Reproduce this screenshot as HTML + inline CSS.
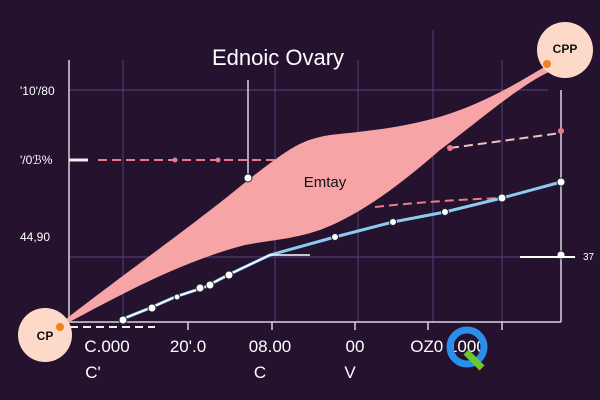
<!DOCTYPE html>
<html><head><style>
body{margin:0;background:#24112e;}
svg{display:block}
text{font-family:"Liberation Sans",sans-serif}
</style></head><body>
<svg width="600" height="400" viewBox="0 0 600 400">
<rect width="600" height="400" fill="#25122f"/>
<g stroke="#4c3b70" stroke-width="1.2">
<line x1="69" y1="90" x2="548" y2="90"/>
<line x1="69" y1="257" x2="561" y2="257"/>
<line x1="123" y1="60" x2="123" y2="322"/>
<line x1="358" y1="60" x2="358" y2="322"/>
<line x1="433" y1="30" x2="433" y2="322"/>
<line x1="502" y1="60" x2="502" y2="322"/>
<line x1="275" y1="60" x2="275" y2="322"/>
</g>
<g stroke="#d8d4e0" stroke-width="1.5" fill="none">
<line x1="69" y1="60" x2="69" y2="322"/>
<line x1="69" y1="322" x2="561" y2="322"/>
<line x1="561" y1="90" x2="561" y2="322"/>
<line x1="248" y1="80" x2="248" y2="178"/>
<line x1="188" y1="322" x2="188" y2="330"/>
<line x1="272" y1="322" x2="272" y2="330"/>
<line x1="355" y1="322" x2="355" y2="330"/>
<line x1="428" y1="322" x2="428" y2="330"/>
<line x1="502" y1="322" x2="502" y2="330"/>
</g>
<line x1="69" y1="160" x2="88" y2="160" stroke="#eee" stroke-width="3"/>
<line x1="98" y1="160" x2="300" y2="160" stroke="#e87d86" stroke-width="2" stroke-dasharray="9,5"/>
<path d="M450 148 L561 133" stroke="#f0c0c0" stroke-width="2" stroke-dasharray="9,5"/>
<path d="M375 207 Q440 200 502 198" stroke="#e87d86" stroke-width="2" stroke-dasharray="9,5" fill="none"/>
<path d="M70 327 L155 327" stroke="#eee" stroke-width="2" stroke-dasharray="8,5"/>
<path d="M62 322 C140 262 200 220 248 180 C290 148 300 140 330 135 C380 130 420 125 460 110 C500 95 530 75 548 65 L551 71 C520 85 480 120 440 150 C400 185 360 215 320 230 C290 240 270 240 245 245 C180 262 120 295 62 326 Z" fill="#f6a4a6"/>
<polyline points="120,320 150,308 175,297 205,287 230,274 270,255 335,237 393,222 445,212 502,198 561,182" fill="none" stroke="#8ccbef" stroke-width="3"/>
<polyline points="120,320 150,308 175,297 205,287 230,274 270,255 310,255" fill="none" stroke="#fff" stroke-width="1.5"/>
<g fill="#fff" stroke="#223" stroke-width="1">
<circle cx="123" cy="320" r="4"/><circle cx="152" cy="308" r="4"/><circle cx="177" cy="297" r="3"/>
<circle cx="200" cy="288" r="4"/><circle cx="210" cy="285" r="4"/><circle cx="229" cy="275" r="4"/>
<circle cx="335" cy="237" r="3.5"/><circle cx="393" cy="222" r="3.5"/><circle cx="445" cy="212" r="3.5"/>
<circle cx="502" cy="198" r="4"/><circle cx="561" cy="182" r="4"/><circle cx="248" cy="178" r="4"/>
<circle cx="561" cy="255" r="4"/>
</g>
<line x1="520" y1="257" x2="575" y2="257" stroke="#fff" stroke-width="2"/>
<circle cx="175" cy="160" r="2.5" fill="#e87d86"/><circle cx="218" cy="160" r="2.5" fill="#e87d86"/>
<circle cx="450" cy="148" r="3" fill="#e87d86"/><circle cx="561" cy="131" r="3" fill="#e87d86"/>
<circle cx="45" cy="335" r="27" fill="#fcd9c8"/>
<circle cx="565" cy="50" r="28" fill="#fcd9c8"/>
<circle cx="60" cy="327" r="4" fill="#f08020"/><circle cx="547" cy="64" r="4" fill="#f08020"/>
<text x="45" y="340" font-size="12" font-weight="bold" text-anchor="middle" fill="#111">CP</text>
<text x="565" y="53" font-size="12" font-weight="bold" text-anchor="middle" fill="#111">CPP</text>
<text x="278" y="65" font-size="22" text-anchor="middle" fill="#fff">Ednoic Ovary</text>
<text x="325" y="187" font-size="15" text-anchor="middle" fill="#111">Emtay</text>
<g fill="#fff" font-size="12">
<text x="20" y="95">'10'/80</text>
<text x="20" y="164">'/0ℬ%</text>
<text x="20" y="241">44,90</text>
<text x="583" y="260" font-size="10">37</text>
</g>
<g fill="#fff" font-size="17" text-anchor="middle">
<text x="107" y="352">C.000</text>
<text x="188" y="352">20'.0</text>
<text x="270" y="352">08.00</text>
<text x="355" y="352">00</text>
<text x="448" y="352">OZ0 1000</text>
<text x="93" y="378">C'</text>
<text x="260" y="378">C</text>
<text x="350" y="378">V</text>
</g>
<circle cx="467" cy="347" r="17" fill="none" stroke="#2a8fe8" stroke-width="7"/>
<path d="M466 352 L482 368" stroke="#6cc830" stroke-width="7"/>
</svg>
</body></html>
